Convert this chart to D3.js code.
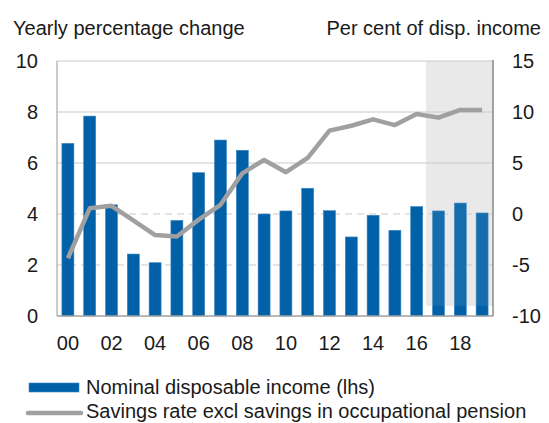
<!DOCTYPE html>
<html><head><meta charset="utf-8">
<script src="https://cdn.jsdelivr.net/npm/d3@7"></script>
<style>body{margin:0;background:#fff}svg{display:block;font-family:"Liberation Sans",Arial,sans-serif}</style>
</head><body><svg id="c" width="549" height="423"></svg>
<script>
const years = d3.range(2000, 2020);
const incomeGrowth = [6.77, 7.84, 4.36, 2.43, 2.09, 3.75, 5.62, 6.90, 6.50, 4.00, 4.12, 5.01, 4.13, 3.10, 3.95, 3.36, 4.29, 4.12, 4.43, 4.04];
const savingsRate = [-4.34, 0.56, 0.80, -0.62, -2.06, -2.2, -0.55, 0.9, 3.99, 5.3, 4.1, 5.5, 8.17, 8.65, 9.28, 8.72, 9.8, 9.45, 10.2, 10.2];
const leftTicks = [0, 2, 4, 6, 8, 10];
const rightTicks = [-10, -5, 0, 5, 10, 15];
const xTickYears = [2000, 2002, 2004, 2006, 2008, 2010, 2012, 2014, 2016, 2018];
const forecastStart = 2017;
const leftTitle = "Yearly percentage change";
const rightTitle = "Per cent of disp. income";
const legendLabels = ["Nominal disposable income (lhs)", "Savings rate excl savings in occupational pension"];

const svg = d3.select("#c");
const L = 57, R = 493, T = 61, B = 316;
const x = d3.scaleBand().domain(years).range([L, R]).paddingInner(0.45).paddingOuter(0.225);
const yL = d3.scaleLinear().domain([0, 10]).range([B, T]);
const yR = d3.scaleLinear().domain([-10, 15]).range([B, T]);
const txt = "#1a1a1a";

// forecast shading (background)
const step = x.step();
const shadeX0 = x(forecastStart) - x.paddingInner() * step / 2 - 1.5;
svg.append("rect").attr("x", shadeX0).attr("y", T).attr("width", R - shadeX0).attr("height", yL(0.4) - T).attr("fill", "#e9e9e9");

// gridlines
leftTicks.filter(t => t > 0 && t < 10).forEach(t => {
  svg.append("line").attr("x1", L).attr("x2", R).attr("y1", yL(t)).attr("y2", yL(t))
    .attr("stroke", "#c9c9c9").attr("stroke-width", 1.2)
    .attr("stroke-dasharray", t < 6 ? "7,5" : null);
});
svg.append("line").attr("x1", L).attr("x2", R).attr("y1", T).attr("y2", T).attr("stroke", "#c9c9c9").attr("stroke-width", 1.2);

// bars
svg.append("g").selectAll("rect").data(years).join("rect")
  .attr("x", d => x(d)).attr("width", x.bandwidth())
  .attr("y", (d, i) => yL(incomeGrowth[i])).attr("height", (d, i) => yL(0) - yL(incomeGrowth[i]))
  .attr("fill", "#0061a8").attr("stroke", "#3f86c0").attr("stroke-width", 0.6);

// shading overlay on bars
svg.append("rect").attr("x", shadeX0).attr("y", T).attr("width", R - shadeX0).attr("height", yL(0.4) - T).attr("fill", "#e9e9e9").attr("opacity", 0.09);

// line
const line = d3.line().x((d, i) => x(years[i]) + x.bandwidth() / 2).y(d => yR(d));
svg.append("path").datum(savingsRate).attr("d", line).attr("fill", "none")
  .attr("stroke", "#a0a0a0").attr("stroke-width", 4.5).attr("stroke-linejoin", "round");

// frame
svg.append("line").attr("x1", L).attr("x2", L).attr("y1", T).attr("y2", B).attr("stroke", "#a8a8a8").attr("stroke-width", 1.2);
svg.append("line").attr("x1", L).attr("x2", R).attr("y1", B).attr("y2", B).attr("stroke", "#a0a0a0").attr("stroke-width", 1.4);
svg.append("line").attr("x1", R).attr("x2", R).attr("y1", T - 1).attr("y2", B).attr("stroke", "#6e6e6e").attr("stroke-width", 1.2);

// axes labels
const fs = 20;
svg.append("g").selectAll("text").data(leftTicks).join("text")
  .attr("x", 38).attr("y", d => yL(d)).attr("dy", "0.36em").attr("text-anchor", "end")
  .attr("font-size", fs).attr("fill", txt).text(d => d);
svg.append("g").selectAll("text").data(rightTicks).join("text")
  .attr("x", 512).attr("y", d => yR(d)).attr("dy", "0.36em").attr("text-anchor", "start")
  .attr("font-size", fs).attr("fill", txt).text(d => d);
svg.append("g").selectAll("text").data(xTickYears).join("text")
  .attr("x", d => x(d) + x.bandwidth() / 2).attr("y", 350).attr("text-anchor", "middle")
  .attr("font-size", fs).attr("fill", txt).text(d => String(d).slice(2));

svg.append("text").attr("x", 13).attr("y", 35).attr("font-size", fs).attr("fill", txt).text(leftTitle);
svg.append("text").attr("x", 541).attr("y", 35).attr("text-anchor", "end").attr("font-size", fs).attr("fill", txt).text(rightTitle);

// legend
svg.append("rect").attr("x", 29).attr("y", 383).attr("width", 50).attr("height", 9).attr("fill", "#0061a8").attr("stroke", "#3f86c0").attr("stroke-width", 0.6);
svg.append("text").attr("x", 86).attr("y", 394).attr("font-size", fs).attr("fill", txt).text(legendLabels[0]);
svg.append("line").attr("x1", 28).attr("x2", 81).attr("y1", 413).attr("y2", 413).attr("stroke", "#a0a0a0").attr("stroke-width", 4.5).attr("stroke-linecap", "round");
svg.append("text").attr("x", 86).attr("y", 418).attr("font-size", fs).attr("fill", txt).text(legendLabels[1]);
</script></body></html>
